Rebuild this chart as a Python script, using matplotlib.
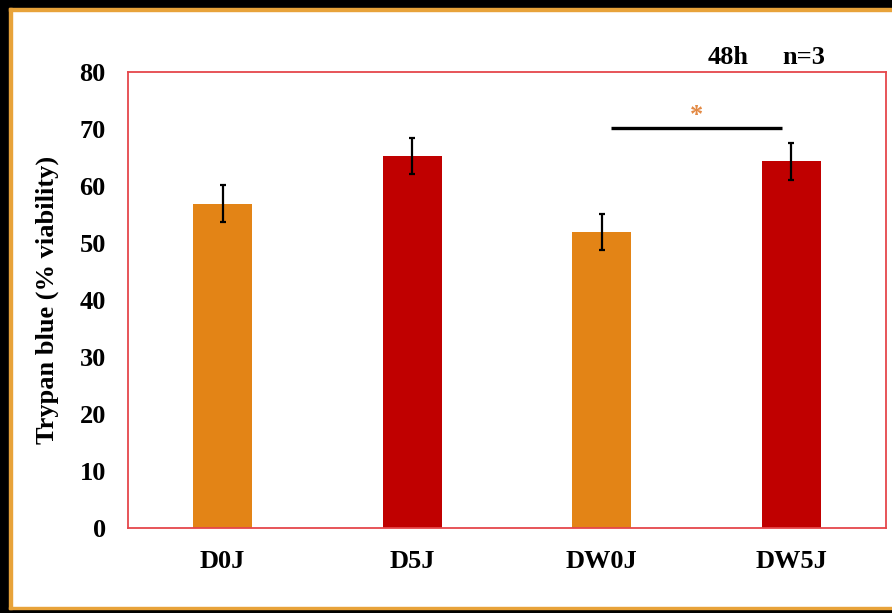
import matplotlib
matplotlib.use("Agg")
import matplotlib.pyplot as plt
from matplotlib.patches import Rectangle

# data
groups = ["D0J", "D5J", "DW0J", "DW5J"]
viability = [56.9, 65.3, 51.9, 64.3]
errors = [3.2, 3.2, 3.2, 3.2]
bar_colors = ["#E38416", "#C00000", "#E38416", "#C00000"]
yticks = [0, 10, 20, 30, 40, 50, 60, 70, 80]

W, H = 892, 613
plt.rcParams["font.family"] = ["Liberation Serif", "DejaVu Serif"]
plt.rcParams["font.weight"] = "bold"

fig = plt.figure(figsize=(W / 100, H / 100), dpi=100)

def px_rect(x0, y0, x1, y1, color):
    # rectangle in pixel coords, y measured from top
    fig.patches.append(Rectangle((x0 / W, 1 - y1 / H), (x1 - x0) / W, (y1 - y0) / H,
                                 transform=fig.transFigure, color=color, zorder=0))

# outer frame: black edge with a thin orange line inside
px_rect(0, 0, W, 8, "black")
px_rect(0, 0, 9, H, "black")
px_rect(0, 609, W, H, "black")
px_rect(9, 8, W, 10.5, "#E8A33A")
px_rect(9, 8, 11.5, 609, "#E8A33A")
px_rect(9, 606.5, W, 609, "#E8A33A")

ax = fig.add_axes([128 / W, (H - 528) / H, (886 - 128) / W, (528 - 72) / H])
x = range(len(groups))
ax.bar(x, viability, width=0.31, color=bar_colors, zorder=2)
ax.errorbar(x, viability, yerr=errors, fmt="none", ecolor="black",
            elinewidth=1.6, capsize=2.2, capthick=1.6, zorder=3)

ax.set_xlim(-0.5, 3.5)
ax.set_ylim(0, 80)
ax.set_yticks(yticks)
ax.set_xticks(list(x))
ax.set_xticklabels(groups)
ax.tick_params(axis="both", length=0, labelsize=19)
ax.tick_params(axis="y", pad=16)
ax.tick_params(axis="x", pad=16)
for lab in ax.get_xticklabels() + ax.get_yticklabels():
    lab.set_fontweight("bold")
for s in ax.spines.values():
    s.set_color("#E5474B")
    s.set_linewidth(1.3)

ax.set_ylabel("Trypan blue (% viability)", fontsize=19, fontweight="bold", labelpad=15)

# significance bar between DW0J and DW5J
ax.plot([2.05, 2.95], [70.2, 70.2], color="black", lw=2.4, solid_capstyle="butt", zorder=3)
ax.text(2.5, 72.3, "*", color="#E38A45", fontsize=19, ha="center", va="center",
        fontweight="bold")

fig.text(728 / W, 1 - 58 / H, "48h", fontsize=19, fontweight="bold", ha="center", va="center")
fig.text(804 / W, 1 - 58 / H, "n=3", fontsize=19, fontweight="bold", ha="center", va="center")

fig.savefig("out.png", dpi=100)
